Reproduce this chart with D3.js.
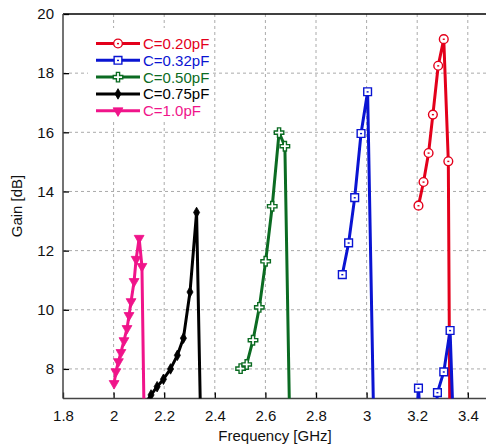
<!DOCTYPE html>
<html>
<head>
<meta charset="utf-8">
<script src="https://cdn.jsdelivr.net/npm/d3@7"></script>
<style>
  body { margin: 0; background: #fff; }
  svg { display: block; font-family: "Liberation Sans", Arial, sans-serif; }
</style>
</head>
<body>
<svg id="chart" width="486" height="446"></svg>
<script>
// values
var xTicks = [1.8, 2, 2.2, 2.4, 2.6, 2.8, 3, 3.2, 3.4]
var yTicks = [8, 10, 12, 14, 16, 18, 20]

var freq020 = [3.205, 3.225, 3.245, 3.262, 3.283, 3.305, 3.323, 3.33]
var gain020 = [13.52, 14.32, 15.30, 16.60, 18.25, 19.15, 15.02, 4.7]

var freq032 = [2.904, 2.929, 2.953, 2.978, 3.004, 3.029, 3.18, 3.205, 3.23, 3.255, 3.28, 3.305, 3.33, 3.355]
var gain032 = [11.19, 12.26, 13.79, 15.96, 17.37, 5.8, 4, 7.35, 4, 4, 7.2, 7.9, 9.3, 3]

var freq050 = [2.502, 2.526, 2.551, 2.576, 2.601, 2.627, 2.654, 2.677, 2.70]
var gain050 = [8.01, 8.15, 8.97, 10.08, 11.64, 13.50, 15.99, 15.53, 4.2]

var freq075 = [2.123, 2.148, 2.172, 2.197, 2.225, 2.252, 2.276, 2.302, 2.328, 2.35]
var gain075 = [6.8, 7.12, 7.4, 7.65, 8.0, 8.46, 9.04, 10.6, 13.29, 3.6]

var freq100 = [2.002, 2.009, 2.019, 2.029, 2.041, 2.053, 2.061, 2.069, 2.081, 2.089, 2.101, 2.112, 2.12]
var gain100 = [7.51, 7.91, 8.25, 8.56, 8.96, 9.37, 9.81, 10.28, 10.96, 11.71, 12.42, 11.47, 6.7]

var labels = ["C=0.20pF", "C=0.32pF", "C=0.50pF", "C=0.75pF", "C=1.0pF"]

var series = [
  { name: labels[0], color: "#e3001b", sym: d3.symbolCircle, size: 60, fill: "#fff", dot: true, f: freq020, g: gain020 },
  { name: labels[1], color: "#0a14d2", sym: d3.symbolSquare, size: 60, fill: "#fff", dot: true, f: freq032, g: gain032 },
  { name: labels[2], color: "#0b6b22", sym: d3.symbolCross, size: 50, fill: "#fff", dot: false, f: freq050, g: gain050 },
  { name: labels[3], color: "#000000", sym: d3.symbolDiamond, size: 32, fill: "#000", dot: false, f: freq075, g: gain075 },
  { name: labels[4], color: "#f0148a", sym: d3.symbolTriangle, size: 42, fill: "#f0148a", dot: false, flip: true, f: freq100, g: gain100 }
]

var svg = d3.select("#chart")
var plotLeft = 63, plotTop = 14, plotBottom = 398.5

var x = d3.scaleLinear().domain([1.8, 3.5]).range([plotLeft, plotLeft + 1.7 * 253])
var y = d3.scaleLinear().domain([7, 20]).range([plotBottom, plotTop])

svg.append("defs").append("clipPath").attr("id", "plotclip")
  .append("rect")
    .attr("x", plotLeft).attr("y", plotTop)
    .attr("width", x(3.5) - plotLeft).attr("height", plotBottom - plotTop)

// grid
var grid = svg.append("g")
grid.selectAll(".gx")
    .data(xTicks.slice(1))
  .enter().append("line")
    .attr("x1", function(d) { return x(d) }).attr("x2", function(d) { return x(d) })
    .attr("y1", plotTop).attr("y2", plotBottom)
    .attr("stroke", "#aaa").attr("stroke-dasharray", "3,3")
grid.selectAll(".gy")
    .data(yTicks.slice(0, -1))
  .enter().append("line")
    .attr("x1", plotLeft).attr("x2", x(3.5))
    .attr("y1", function(d) { return y(d) }).attr("y2", function(d) { return y(d) })
    .attr("stroke", "#aaa").attr("stroke-dasharray", "3,3")

// axes with inward ticks
svg.append("g")
    .attr("transform", "translate(0," + plotBottom + ")")
    .call(d3.axisBottom(x).tickValues(xTicks).tickSize(-6).tickPadding(12).tickFormat(d3.format("")))
svg.append("g")
    .attr("transform", "translate(" + plotLeft + ",0)")
    .call(d3.axisLeft(y).tickValues(yTicks).tickSize(-6).tickPadding(9).tickFormat(d3.format("")))
svg.selectAll(".domain").remove()
svg.selectAll(".tick text").style("font-size", "15px").style("font-family", "Liberation Sans, Arial, sans-serif").attr("fill", "#111")
svg.selectAll(".tick line").attr("stroke", "#000").attr("stroke-width", 1.3)

svg.append("line").attr("x1", plotLeft).attr("x2", 486).attr("y1", plotTop).attr("y2", plotTop)
  .attr("stroke", "#000").attr("stroke-width", 1.3)
svg.append("line").attr("x1", plotLeft).attr("x2", 486).attr("y1", plotBottom).attr("y2", plotBottom)
  .attr("stroke", "#444").attr("stroke-width", 1.5)
svg.append("line").attr("x1", plotLeft).attr("x2", plotLeft).attr("y1", plotTop).attr("y2", plotBottom)
  .attr("stroke", "#444").attr("stroke-width", 1.5)

function drawMarker(sel, s) {
  sel.append("path")
    .attr("d", d3.symbol().type(s.sym).size(s.size))
    .attr("transform", s.flip ? "rotate(180)" : null)
    .attr("fill", s.fill)
    .attr("stroke", s.color)
    .attr("stroke-width", s.fill === "#fff" ? 1.4 : 0.8)
  if (s.dot) {
    sel.append("rect").attr("x", -1).attr("y", -0.6).attr("width", 2).attr("height", 1.4).attr("fill", s.color)
  }
}

// curves
var plot = svg.append("g").attr("clip-path", "url(#plotclip)")
var line = d3.line().x(function(d) { return x(d[0]) }).y(function(d) { return y(d[1]) })

series.forEach(function(s) {
  var pts = s.f.map(function(f, i) { return [f, s.g[i]] })
  plot.append("path")
    .datum(pts)
    .attr("d", line)
    .attr("fill", "none")
    .attr("stroke", s.color)
    .attr("stroke-width", 3)
    .attr("stroke-linejoin", "round")
  plot.selectAll(null)
      .data(pts)
    .enter().append("g")
      .attr("transform", function(d) { return "translate(" + x(d[0]) + "," + y(d[1]) + ")" })
      .each(function() { drawMarker(d3.select(this), s) })
})

// legend
var legend = svg.append("g")
legend.append("rect").attr("x", 88).attr("y", 28).attr("width", 124).attr("height", 92).attr("fill", "#fff")
series.forEach(function(s, i) {
  var ly = 43.5 + i * 16.8
  var row = legend.append("g")
  row.append("line").attr("x1", 96).attr("x2", 140).attr("y1", ly).attr("y2", ly)
    .attr("stroke", s.color).attr("stroke-width", 3)
  drawMarker(row.append("g").attr("transform", "translate(118," + ly + ")"), s)
  row.append("text").attr("x", 143).attr("y", ly).attr("dy", "0.36em")
    .attr("fill", s.color).style("font-size", "15px").text(s.name)
})

// axis titles
svg.append("text")
    .attr("x", 275).attr("y", 441)
    .attr("text-anchor", "middle")
    .style("font-size", "15px")
    .attr("fill", "#111")
    .text("Frequency [GHz]")
svg.append("text")
    .attr("transform", "translate(22,206) rotate(-90)")
    .attr("text-anchor", "middle")
    .style("font-size", "15px")
    .attr("fill", "#111")
    .text("Gain [dB]")
</script>
</body>
</html>
